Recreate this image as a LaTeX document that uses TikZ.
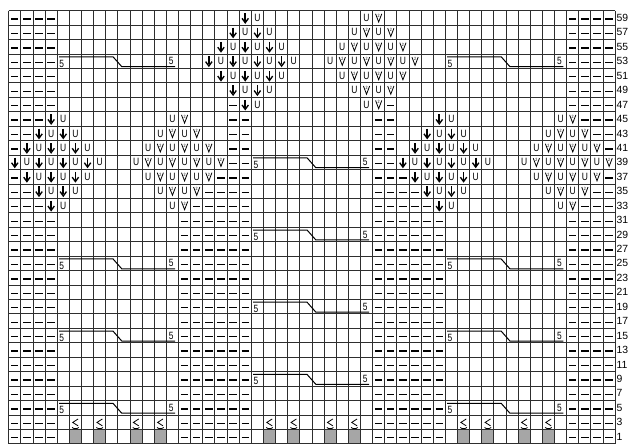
\documentclass[tikz,border=0pt]{standalone}
\usepackage{fontspec}
\setmainfont{Liberation Sans}
\newfontfamily\narrowsf[FakeStretch=0.8]{Liberation Sans}
\newcommand\darr[2]{%
  \begin{scope}[shift={(#1-0.5,#2-0.5)}]
    \draw[line width=1.7pt] (0,4.8pt) -- (0,-3.2pt);
    \draw[line width=1.35pt,line join=miter,line cap=butt] (-3.2pt,-0.4pt) -- (0,-4.8pt) -- (3.2pt,-0.4pt);
  \end{scope}}
\newcommand\unode[2]{%
  \node[ufont] (u-#1-#2) at (#1-0.5,#2-0.5) {U};}
\newcommand\vtwo[2]{%
  \begin{scope}[shift={(#1-0.5,#2-0.5)}]
    \draw[line width=0.8pt,line join=miter] (-3.1pt,4.1pt) -- (0,-4.1pt) -- (3.1pt,4.1pt);
    \node[twofont] (t-#1-#2) at (0,2.2pt) {2};
  \end{scope}}
\newcommand\cablesym[2]{%
  \draw[cab] (#1+0.15,#2-0.81) -- (#1+4.6,#2-0.81) -- (#1+5.32,#2-0.125) -- (#1+9.72,#2-0.125);
  \node[fivefont] (fa-#1-#2) at (#1+0.38,#2-0.33) {5};
  \node[fivefont] (fb-#1-#2) at (#1+9.4,#2-0.5) {5};}
\begin{document}
\begin{tikzpicture}[x=12.13pt,y=-14.44pt,
  gl/.style={line width=0.9pt,draw=black!82},
  purlline/.style={line width=1.3pt,draw=black},
  cab/.style={line width=1pt,draw=black,line join=miter},
  ufont/.style={font=\narrowsf\fontsize{10.6}{11}\selectfont,inner sep=0pt},
  twofont/.style={font=\narrowsf\fontsize{4.6}{5}\selectfont,inner sep=0pt},
  fivefont/.style={font=\narrowsf\fontsize{10.5}{11}\selectfont,inner sep=0pt},
  lbl/.style={font=\fontsize{10.4}{11}\selectfont,inner sep=0pt,anchor=west}]
\useasboundingbox (-0.71723,-0.74100) rectangle (51.138,30.0069);
% gray cells (row 1) and symbols of row 3
\foreach \c in {6,8,11,13,22,24,27,29,38,40,43,45}{
  \fill[black!35] (\c-1,29) rectangle (\c,30);
  \begin{scope}[shift={(\c-0.5,28.5)}]
    \draw[line width=0.8pt,line join=miter] (2.7pt,3.3pt) -- (-2.7pt,-0.2pt) -- (2.7pt,-3.6pt);
    \draw[line width=0.8pt] (-3.3pt,-5.2pt) .. controls (-2pt,-6.8pt) and (2pt,-6.8pt) .. (3.3pt,-5.2pt);
  \end{scope}
}
% grid
\foreach \i in {0,...,50} \draw[gl] (\i,0) -- (\i,30);
\foreach \j in {0,...,30} \draw[gl] (0,\j) -- (50,\j);
% purl dashes
\foreach \r/\cols in {1/{1,2,3,4,47,48,49,50},2/{1,2,3,4,47,48,49,50},3/{1,2,3,4,47,48,49,50},
  4/{1,2,3,4,47,48,49,50},5/{1,2,3,4,47,48,49,50},6/{1,2,3,4,47,48,49,50},
  7/{1,2,3,4,19,32,47,48,49,50},
  8/{1,2,3,19,20,31,32,48,49,50},
  9/{1,2,19,20,31,32,49,50},
  10/{1,19,20,31,32,50},
  11/{19,20,31,32},
  12/{1,18,19,20,31,32,33,50},
  13/{1,2,17,18,19,20,31,32,33,34,49,50},
  14/{1,2,3,16,17,18,19,20,31,32,33,34,35,48,49,50}}{
  \foreach \c in \cols {\draw[purlline] (\c-0.5,\r-0.5) ++(-3.7pt,-1.1pt) -- ++(7.4pt,0);}
}
\foreach \r in {15,...,30}{
  \foreach \c in {1,2,3,4,15,16,17,18,19,20,31,32,33,34,35,36,47,48,49,50}{
    \draw[purlline] (\c-0.5,\r-0.5) ++(-3.7pt,-1.1pt) -- ++(7.4pt,0);}
}
% diamonds
\foreach \base/\ro/\typ in {20/0/a,30/0/b,4/7/a,36/7/a,14/7/b,46/7/b}{
  \foreach \dr/\k in {1/0,2/1,3/2,4/3,5/2,6/1,7/0}{
    \pgfmathtruncatemacro\rr{\ro+\dr}
    \foreach \j in {0,...,\k}{
      \pgfmathtruncatemacro\ca{\base-\k+2*\j}
      \pgfmathtruncatemacro\cb{\ca+1}
      \if a\typ
        \darr{\ca}{\rr}\unode{\cb}{\rr}
      \else
        \unode{\ca}{\rr}\vtwo{\cb}{\rr}
      \fi
    }
  }
}
% cables
\foreach \r in {4,18,23,28}{\cablesym{4}{\r}\cablesym{36}{\r}}
\foreach \r in {11,16,21,26}{\cablesym{20}{\r}}
% row labels
\foreach \r in {1,...,30}{
  \pgfmathtruncatemacro\n{61-2*\r}
  \node[lbl] (lbl\n) at (50.1,\r-0.5) {\n};
}
\end{tikzpicture}
\end{document}
